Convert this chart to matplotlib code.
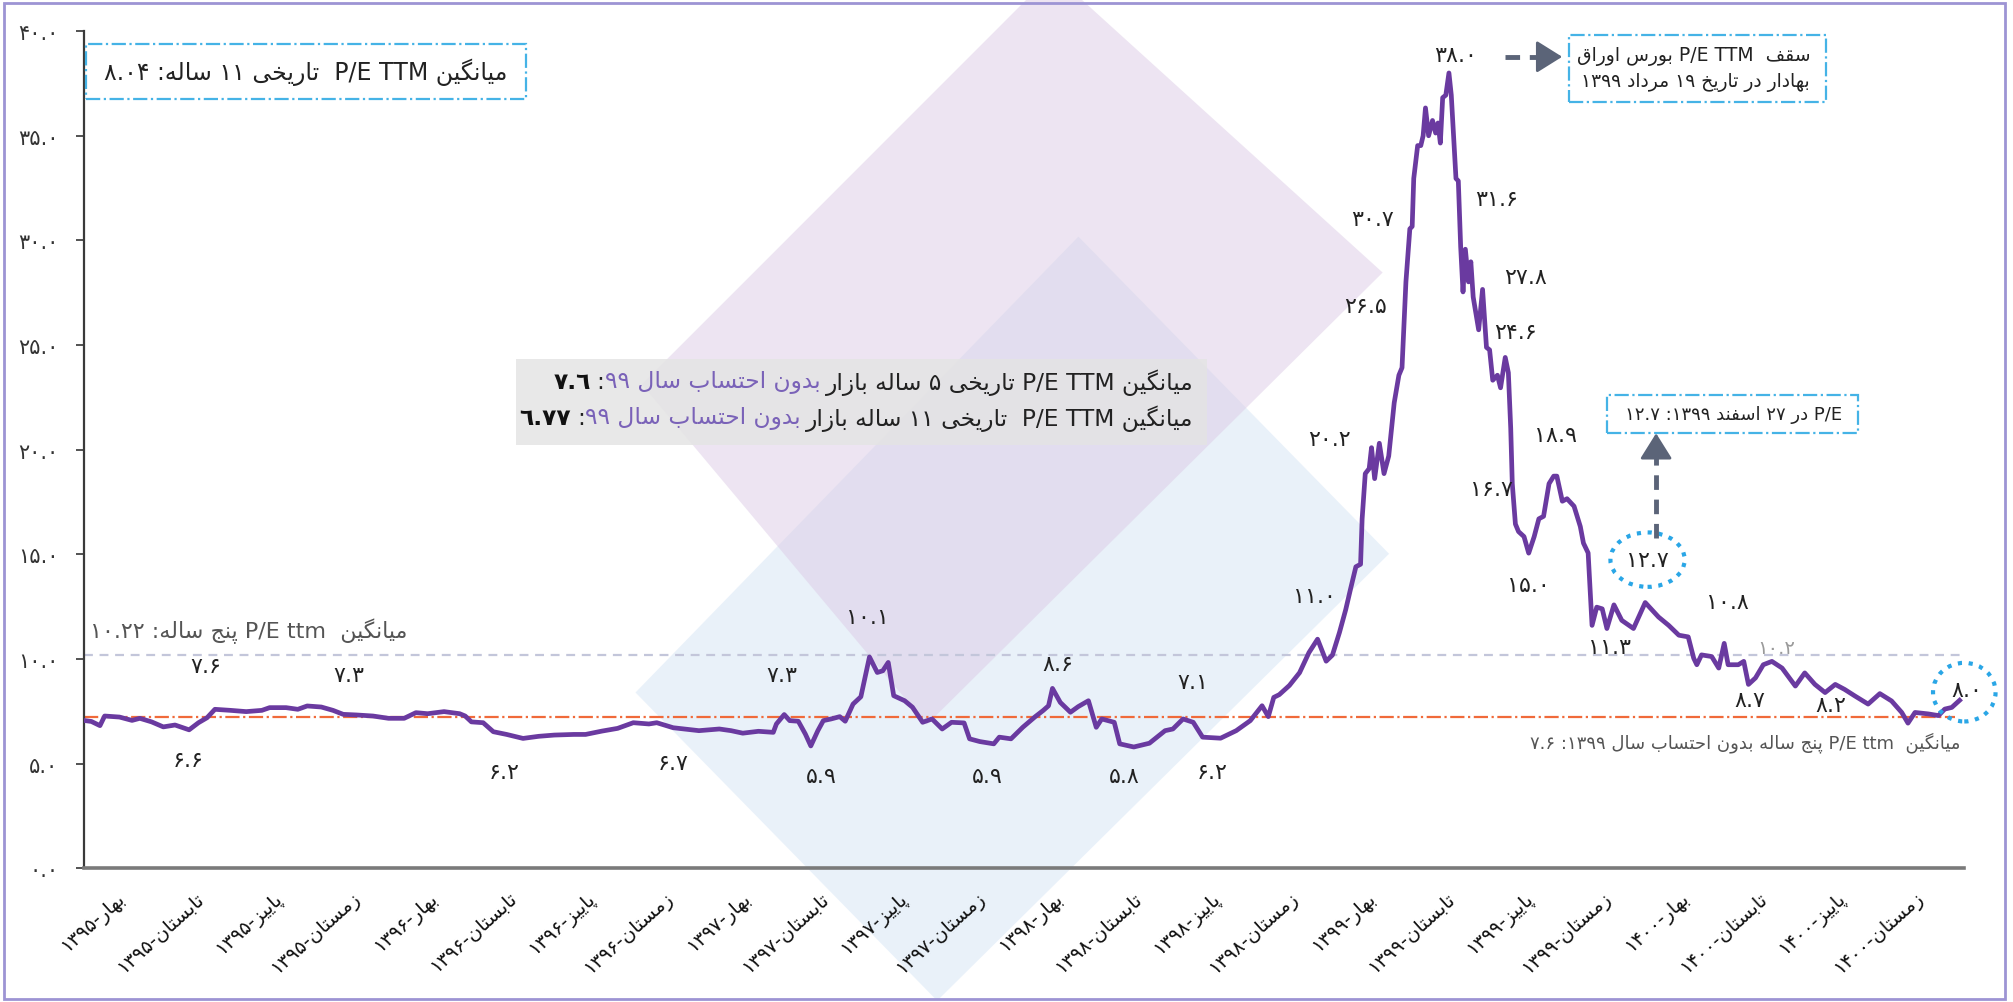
import re
import matplotlib
matplotlib.use("Agg")
import matplotlib.pyplot as plt
from matplotlib.patches import Polygon, Rectangle, Ellipse, FancyArrowPatch
from matplotlib.lines import Line2D

plt.rcParams['font.family'] = ['DejaVu Sans']

# time in quarters counted from the start of spring 1395, and P/E TTM
quarter_pos = [
    0.00, 0.10, 0.21, 0.27, 0.46, 0.62, 0.72, 0.87, 1.02, 1.17, 1.35, 1.47, 1.58, 1.68,
    1.88, 2.08, 2.28, 2.38, 2.59, 2.74, 2.86, 3.04, 3.19, 3.32, 3.49, 3.70, 3.90, 4.10,
    4.25, 4.40, 4.61, 4.81, 4.88, 4.96, 5.11, 5.24, 5.41, 5.62, 5.82, 6.02, 6.27, 6.42,
    6.63, 6.83, 7.03, 7.23, 7.33, 7.54, 7.87, 8.13, 8.28, 8.43, 8.63, 8.82, 8.86, 8.96,
    9.03, 9.14, 9.23, 9.30, 9.39, 9.46, 9.56, 9.67, 9.74, 9.84, 9.94, 10.05, 10.15, 10.22,
    10.29, 10.36, 10.50, 10.60, 10.73, 10.85, 10.98, 11.10, 11.26, 11.33, 11.46, 11.64,
    11.71, 11.86, 12.01, 12.17, 12.27, 12.34, 12.39, 12.49, 12.62, 12.72, 12.85, 12.90,
    12.95, 13.02, 13.18, 13.25, 13.43, 13.63, 13.83, 13.93, 14.06, 14.19, 14.31, 14.54,
    14.74, 14.92, 15.07, 15.15, 15.22, 15.29, 15.42, 15.55, 15.67, 15.78, 15.89, 15.97,
    16.06, 16.14, 16.20, 16.27, 16.33, 16.35, 16.39, 16.44, 16.47, 16.51, 16.57, 16.63,
    16.69, 16.76, 16.82, 16.86, 16.91, 16.96, 16.99, 17.01, 17.06, 17.10, 17.13, 17.16,
    17.20, 17.25, 17.29, 17.32, 17.35, 17.38, 17.42, 17.46, 17.49, 17.55, 17.58, 17.61,
    17.64, 17.67, 17.71, 17.74, 17.77, 17.84, 17.89, 17.94, 17.98, 18.02, 18.08, 18.12,
    18.18, 18.22, 18.25, 18.27, 18.31, 18.35, 18.42, 18.48, 18.55, 18.61, 18.67, 18.74,
    18.80, 18.84, 18.91, 18.97, 19.06, 19.14, 19.18, 19.24, 19.29, 19.35, 19.42, 19.48,
    19.57, 19.67, 19.82, 19.97, 20.14, 20.27, 20.40, 20.52, 20.59, 20.63, 20.69, 20.82,
    20.91, 20.98, 21.03, 21.16, 21.23, 21.29, 21.38, 21.48, 21.59, 21.72, 21.89, 22.01,
    22.14, 22.27, 22.40, 22.52, 22.65, 22.82, 22.97, 23.12, 23.25, 23.33, 23.42, 23.59,
    23.72, 23.80, 23.89, 23.99,
]
pe_ttm = [
    7.07, 7.02, 6.82, 7.28, 7.23, 7.07, 7.17, 7.00, 6.76, 6.85, 6.62, 6.96, 7.20, 7.60,
    7.55, 7.49, 7.55, 7.68, 7.68, 7.60, 7.76, 7.71, 7.55, 7.36, 7.33, 7.28, 7.17, 7.17,
    7.44, 7.39, 7.49, 7.39, 7.28, 7.00, 6.96, 6.53, 6.40, 6.21, 6.31, 6.37, 6.40, 6.40,
    6.56, 6.69, 6.96, 6.90, 6.96, 6.72, 6.58, 6.66, 6.58, 6.46, 6.55, 6.50, 6.90, 7.35,
    7.06, 7.03, 6.42, 5.85, 6.58, 7.06, 7.14, 7.25, 7.03, 7.85, 8.20, 10.10, 9.36, 9.44,
    9.84, 8.25, 8.01, 7.70, 6.98, 7.14, 6.66, 6.98, 6.95, 6.19, 6.06, 5.95,
    6.27, 6.19, 6.74, 7.25, 7.54, 7.77, 8.60, 7.93, 7.46, 7.73, 8.01, 7.38,
    6.74, 7.14, 6.98, 5.95, 5.80, 5.98, 6.58, 6.66, 7.14, 6.98, 6.27, 6.22,
    6.58, 7.06, 7.77, 7.25, 8.17, 8.30, 8.74, 9.35, 10.31, 10.95, 9.90, 10.19,
    11.27, 12.36, 13.32, 14.41, 14.53, 16.70, 18.86, 19.10, 20.10, 18.62, 20.31, 18.86,
    19.70, 22.24, 23.56, 23.92, 28.02, 30.55, 30.67, 32.96, 34.53, 34.53, 35.00, 36.33,
    35.00, 35.73, 35.13, 35.61, 34.65, 36.82, 36.94, 38.00, 36.94, 32.96, 32.84, 29.70,
    27.54, 29.58, 28.02, 28.98, 27.30, 25.73, 27.66, 24.89, 24.77, 23.32, 23.56, 22.96,
    24.41, 23.68, 21.03, 18.38, 16.45, 16.09, 15.85, 15.06, 15.85, 16.70, 16.82, 18.38,
    18.74, 18.74, 17.54, 17.66, 17.30, 16.33, 15.54, 15.07, 11.61, 12.48, 12.40, 11.46,
    12.59, 11.85, 11.46, 12.70, 12.01, 11.61, 11.14, 11.06, 10.04, 9.73, 10.20, 10.12,
    9.57, 10.75, 9.73, 9.73, 9.89, 8.79, 9.10, 9.73, 9.89, 9.57, 8.71, 9.34,
    8.79, 8.40, 8.79, 8.55, 8.24, 7.85, 8.35, 8.00, 7.45, 6.94, 7.45, 7.38,
    7.30, 7.61, 7.69, 8.03,
]

seasons = ['بهار', 'تابستان', 'پاییز', 'زمستان']
years = ['۱۳۹۵', '۱۳۹۶', '۱۳۹۷', '۱۳۹۸', '۱۳۹۹', '۱۴۰۰']
quarter_labels = [f'{s}-{y}' for y in years for s in seasons]

y_ticks = [0, 5, 10, 15, 20, 25, 30, 35, 40]

avg5_line = 10.2          # dashed grey line as drawn
avg5_ex99_line = 7.25     # orange dash-dot line as drawn

# value labels written next to the curve: text, quarter position, height
label_txt = ['۷.۶', '۷.۳', '۶.۶', '۶.۲', '۶.۷', '۷.۳', '۵.۹', '۱۰.۱', '۵.۹', '۸.۶', '۵.۸',
             '۷.۱', '۶.۲', '۱۱.۰', '۲۰.۲', '۲۶.۵', '۳۰.۷', '۳۸.۰', '۳۱.۶', '۲۷.۸', '۲۴.۶',
             '۱۸.۹', '۱۶.۷', '۱۵.۰', '۱۱.۳', '۱۰.۸', '۸.۷', '۸.۲']
label_q = [1.56, 3.39, 1.34, 5.38, 7.54, 8.93, 9.43, 10.02, 11.56, 12.46, 13.31,
           14.18, 14.43, 15.74, 15.93, 16.39, 16.48, 17.54, 18.07, 18.44, 18.31,
           18.82, 18.00, 18.48, 19.51, 21.02, 21.31, 22.34]
label_v = [9.65, 9.22, 5.16, 4.61, 5.04, 9.22, 4.43, 11.99, 4.43, 9.77, 4.43,
           8.91, 4.61, 13.03, 20.53, 26.86, 31.04, 38.84, 31.96, 28.27, 25.63,
           20.71, 18.13, 13.52, 10.57, 12.72, 8.05, 7.81]


# ---- minimal Persian shaping + right-to-left ordering (matplotlib has no text shaping)
DUAL = {'ب': 0xFE8F, 'ت': 0xFE95, 'ث': 0xFE99, 'ج': 0xFE9D, 'ح': 0xFEA1, 'خ': 0xFEA5,
        'س': 0xFEB1, 'ش': 0xFEB5, 'ص': 0xFEB9, 'ض': 0xFEBD, 'ط': 0xFEC1, 'ظ': 0xFEC5,
        'ع': 0xFEC9, 'غ': 0xFECD, 'ف': 0xFED1, 'ق': 0xFED5, 'ل': 0xFEDD, 'م': 0xFEE1,
        'ن': 0xFEE5, 'ه': 0xFEE9, 'ئ': 0xFE89, 'پ': 0xFB56, 'چ': 0xFB7A, 'ک': 0xFB8E,
        'گ': 0xFB92, 'ی': 0xFBFC}
RIGHT = {'ا': 0xFE8D, 'آ': 0xFE81, 'د': 0xFEA9, 'ذ': 0xFEAB, 'ر': 0xFEAD, 'ز': 0xFEAF,
         'ژ': 0xFB8A, 'و': 0xFEED}
LTR_RUN = re.compile(r'[A-Za-z0-9۰-۹٠-٩](?:[A-Za-z0-9۰-۹٠-٩./ ]*[A-Za-z0-9۰-۹٠-٩])?')


def shape(s):
    out = []
    for i, ch in enumerate(s):
        if ch in DUAL:
            base, dual = DUAL[ch], True
        elif ch in RIGHT:
            base, dual = RIGHT[ch], False
        else:
            out.append(ch)
            continue
        prev = s[i - 1] if i > 0 else ''
        nxt = s[i + 1] if i + 1 < len(s) else ''
        jp = prev in DUAL
        jn = dual and (nxt in DUAL or nxt in RIGHT)
        off = 3 if (jp and jn) else 1 if jp else 2 if jn else 0
        out.append(chr(base + off))
    return ''.join(out)


def fa(s):
    parts, pos = [], 0
    for m in LTR_RUN.finditer(s):
        if m.start() > pos:
            parts.append(shape(s[pos:m.start()])[::-1])
        parts.append(m.group())
        pos = m.end()
    if pos < len(s):
        parts.append(shape(s[pos:])[::-1])
    return ''.join(parts[::-1])


def fa_digits(s):
    return s.translate(str.maketrans('0123456789', '۰۱۲۳۴۵۶۷۸۹'))


fig = plt.figure(figsize=(20.13, 10.03), dpi=100)
W, H = 1568.0, 781.0


def fx(x):
    return x / W


def fy(y):
    return 1 - y / H


# decorative background diamonds
blue = Polygon([(fx(840), fy(185)), (fx(1082), fy(432)), (fx(730), fy(780)), (fx(495), fy(540))],
               closed=True, transform=fig.transFigure, facecolor='#d4e4f5', alpha=0.5,
               edgecolor='none', zorder=-5)
pink = Polygon([(fx(500), fy(300)), (fx(820), fy(-20)), (fx(1077), fy(213)), (fx(722), fy(565))],
               closed=True, transform=fig.transFigure, facecolor='#dccbe6', alpha=0.5,
               edgecolor='none', zorder=-4)
fig.patches.extend([blue, pink])

# outer frame
fig.patches.append(Rectangle((0.002, 0.003), 0.994, 0.993, transform=fig.transFigure,
                             fill=False, edgecolor='#9d94d4', lw=2, zorder=10))

ax = fig.add_axes([0.0415, 0.1332, 0.9343, 0.8348])
ax.set_zorder(1)
ax.patch.set_alpha(0)

ax.axhline(avg5_line, color='#c3c6da', lw=1.6, dashes=(4, 3), zorder=2)
ax.axhline(avg5_ex99_line, xmax=0.995, color='#f06a3a', lw=1.6, linestyle='-.', zorder=2)
ax.plot(quarter_pos, pe_ttm, color='#6a3aa0', lw=3.4, zorder=4, solid_joinstyle='round')

ax.set_xlim(0, 24.05)
ax.set_ylim(0, 40)
ax.set_yticks(y_ticks)
ax.set_yticklabels([fa_digits(f'{v:.1f}') for v in y_ticks], fontsize=15, color='#333333')
ax.tick_params(axis='y', direction='out', length=6, width=1.3, color='#444444', pad=12)
ax.set_xticks([i + 0.5 for i in range(len(quarter_labels))])
ax.set_xticklabels([fa(t) for t in quarter_labels], rotation=42, ha='right', va='center',
                   rotation_mode='anchor', fontsize=14, color='#111111')
ax.tick_params(axis='x', length=0, pad=19)
for side in ['top', 'right']:
    ax.spines[side].set_visible(False)
ax.spines['left'].set_color('#3a3a3a')
ax.spines['left'].set_linewidth(1.6)
ax.spines['bottom'].set_color('#7a7a7a')
ax.spines['bottom'].set_linewidth(2.6)

for t, q, v in zip(label_txt, label_q, label_v):
    ax.text(q, v, t, ha='center', va='center', fontsize=16, color='#222222', zorder=5)
ax.text(21.64, 10.57, '۱۰.۲', ha='center', va='center', fontsize=14, color='#9a9a9a', zorder=1)

# circled values
ax.text(20.0, 14.75, '۱۲.۷', ha='center', va='center', fontsize=16, color='#222222', zorder=5)
ax.add_patch(Ellipse((20.0, 14.75), 0.95, 2.6, fill=False, edgecolor='#2aa6e6', lw=3,
                     linestyle=(0, (1, 1.6)), zorder=5))
ax.text(24.08, 8.54, '۸.۰', ha='center', va='center', fontsize=16, color='#222222', zorder=5,
        clip_on=False)
ax.add_patch(Ellipse((24.05, 8.42), 0.8, 2.8, fill=False, edgecolor='#2aa6e6', lw=3,
                     linestyle=(0, (1, 1.6)), zorder=5, clip_on=False))

# average line captions
ax.text(0.08, 11.37, fa('میانگین  P/E ttm پنج ساله: ۱۰.۲۲'), ha='left', va='center',
        fontsize=16, color='#555555')
ax.text(24.0, 6.05, fa('میانگین  P/E ttm پنج ساله بدون احتساب سال ۱۳۹۹: ۷.۶'), ha='right',
        va='center', fontsize=13, color='#555555', clip_on=False)

box_style = dict(fill=True, facecolor='white', edgecolor='#45b3e6', lw=1.6, linestyle='-.',
                 transform=fig.transFigure, zorder=6)

# top-left box
fig.patches.append(Rectangle((fx(67), fy(78)), fx(410) - fx(67), fy(35) - fy(78), **box_style))
fig.text(fx(238), fy(56), fa('میانگین P/E TTM  تاریخی ۱۱ ساله: ۸.۰۴'), ha='center',
         va='center', fontsize=17, color='#222222', zorder=7)

# top-right box with arrow
fig.patches.append(Rectangle((fx(1222), fy(80)), fx(1422) - fx(1222), fy(28) - fy(80), **box_style))
fig.text(fx(1410), fy(44), fa('سقف  P/E TTM بورس اوراق'), ha='right', va='center',
         fontsize=13.5, color='#222222', zorder=7)
fig.text(fx(1410), fy(64), fa('بهادار در تاریخ ۱۹ مرداد ۱۳۹۹'), ha='right', va='center',
         fontsize=13.5, color='#222222', zorder=7)
arrow_col = '#5b6478'
fig.lines.append(Line2D([fx(1172), fx(1206)], [fy(45), fy(45)], transform=fig.transFigure,
                        color=arrow_col, lw=3.5, dashes=(3, 2), zorder=7))
fig.patches.append(FancyArrowPatch((fx(1204), fy(45)), (fx(1219), fy(45)),
                                   transform=fig.transFigure, arrowstyle='-|>,head_length=8,head_width=5',
                                   color=arrow_col, lw=2, mutation_scale=2, zorder=7))

# P/E on 27 Esfand box with arrow
fig.patches.append(Rectangle((fx(1252), fy(338)), fx(1447) - fx(1252), fy(308) - fy(338), **box_style))
fig.text(fx(1350), fy(323), fa('P/E در ۲۷ اسفند ۱۳۹۹: ۱۲.۷'), ha='center', va='center',
         fontsize=13, color='#222222', zorder=7)
fig.lines.append(Line2D([fx(1290), fx(1290)], [fy(420), fy(348)], transform=fig.transFigure,
                        color=arrow_col, lw=3.5, dashes=(3, 2), zorder=7))
fig.patches.append(FancyArrowPatch((fx(1290), fy(350)), (fx(1290), fy(336)),
                                   transform=fig.transFigure, arrowstyle='-|>,head_length=8,head_width=5',
                                   color=arrow_col, lw=2, mutation_scale=2, zorder=7))

# grey middle box with two coloured lines
fig.patches.append(Rectangle((fx(402), fy(347)), fx(940) - fx(402), fy(280) - fy(347),
                             transform=fig.transFigure, facecolor='#e4e4e4', alpha=0.85,
                             edgecolor='none', zorder=6))
purple_txt = '#7a62b8'
mid_lines = [
    (fy(298), [('میانگین P/E TTM تاریخی ۵ ساله بازار', '#222222', 'normal', 6),
               ('بدون احتساب سال ۹۹', purple_txt, 'normal', 0),
               (':', '#222222', 'normal', 6),
               ('۷.٦', '#111111', 'bold', 0)]),
    (fy(326), [('میانگین P/E TTM  تاریخی ۱۱ ساله بازار', '#222222', 'normal', 6),
               ('بدون احتساب سال ۹۹', purple_txt, 'normal', 0),
               (':', '#222222', 'normal', 6),
               ('٦.۷۷', '#111111', 'bold', 0)]),
]
renderer = fig.canvas.get_renderer()
fig_w_px = fig.get_figwidth() * fig.dpi
for y, segs in mid_lines:
    x = fx(930)
    for txt, col, wt, gap in segs:
        t = fig.text(x, y, fa(txt), ha='right', va='center', fontsize=16.8, color=col,
                     fontweight=wt, zorder=7)
        w = t.get_window_extent(renderer).width
        x -= (w + gap) / fig_w_px

fig.savefig('out.png', dpi=100)
